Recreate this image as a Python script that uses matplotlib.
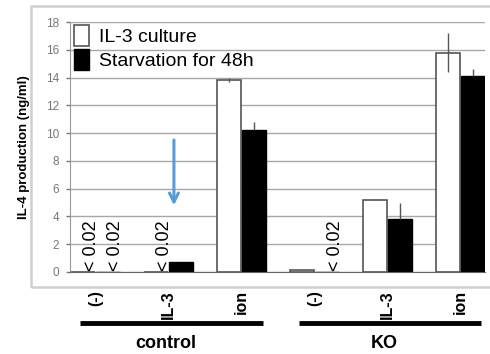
import matplotlib
matplotlib.use("Agg")
import matplotlib.pyplot as plt
import matplotlib.transforms as mtransforms
from matplotlib.patches import Rectangle, Patch
import numpy as np

plt.rcParams['font.family'] = ['Liberation Sans', 'DejaVu Sans']

conditions = ["(-)", "IL-3", "ion", "(-)", "IL-3", "ion"]
groups = ["control", "KO"]
series = ["IL-3 culture", "Starvation for 48h"]
il3_culture = [0, 0, 13.8, 0.12, 5.2, 15.8]
il3_culture_err = [0, 0, 0.15, 0, 0.05, 1.4]
starvation = [0, 0.7, 10.2, 0, 3.8, 14.1]
starvation_err = [0, 0.05, 0.6, 0, 1.2, 0.55]
# bars too small to show, labelled "< 0.02" instead: (position, series index)
below_limit = [(0, 0), (0, 1), (1, 0), (3, 1)]

x = np.arange(len(conditions))
width = 0.33
off = 0.17

fig = plt.figure(figsize=(4.9, 3.54), dpi=100)
ax = fig.add_axes([70 / 490, 1 - 272 / 354, 415 / 490, 250 / 354])

# outer chart frame
fig.add_artist(Rectangle((31 / 490, 1 - 287 / 354), 470 / 490, 281 / 354,
                         transform=fig.transFigure, fill=False,
                         edgecolor="#cfcfcf", lw=1.8))

ax.set_axisbelow(True)
ax.yaxis.grid(True, color="#a8a8a8", lw=1.0)

ax.bar(x - off, il3_culture, width, color="white", edgecolor="#555555", lw=1.2,
       yerr=il3_culture_err, error_kw=dict(ecolor="#555555", elinewidth=1.0, capsize=0))
ax.bar(x + off, starvation, width, color="black", edgecolor="black", lw=1.0,
       yerr=[np.zeros(len(x)), starvation_err],
       error_kw=dict(ecolor="#555555", elinewidth=1.0, capsize=0))

for pos, s in below_limit:
    sx = x[pos] + (-off if s == 0 else off) + 0.12
    if pos == 0 and s == 1:
        sx = x[pos] + 0.27
    ax.text(sx, 0.05, "< 0.02", rotation=90, ha="center", va="bottom", fontsize=13)

ax.annotate("", xy=(1.075, 4.6), xytext=(1.075, 9.7),
            arrowprops=dict(arrowstyle="->", color="#5b9bd5", lw=2.2,
                            mutation_scale=16))

ax.set_xlim(-0.35, 5.34)
ax.set_ylim(0, 18)
ax.set_yticks(range(0, 19, 2))
ax.tick_params(axis="y", colors="#777777", labelsize=8.5, length=3, width=1, pad=5)
ax.set_xticks(x)
ax.set_xticklabels(conditions, rotation=90, fontsize=11.5, fontweight="bold", color="black")
ax.tick_params(axis="x", length=0, pad=13)
ax.set_ylabel("IL-4 production (ng/ml)", fontsize=9.5, fontweight="bold", labelpad=11)

for side in ["top", "right"]:
    ax.spines[side].set_visible(False)
ax.spines["left"].set_color("#999999")
ax.spines["bottom"].set_color("#666666")
ax.spines["bottom"].set_linewidth(0.8)

trans = mtransforms.blended_transform_factory(ax.transData, ax.transAxes)
for i, g in enumerate(groups):
    first, last = x[3 * i], x[3 * i + 2]
    ax.plot([first - 0.21, last + 0.29], [-0.204, -0.204], color="black", lw=3.5,
            transform=trans, clip_on=False, solid_capstyle="butt")
    ax.text((first + last) / 2 - 0.04, -0.285, g, transform=trans, ha="center", va="center",
            fontsize=13, fontweight="bold")

handles = [Patch(facecolor="white", edgecolor="#555555", lw=1.2),
           Patch(facecolor="black", edgecolor="black")]
ax.legend(handles, series, loc="upper left", bbox_to_anchor=(-0.01, 1.02), frameon=False,
          fontsize=14, handlelength=0.8, handleheight=1.3, handletextpad=0.5,
          labelspacing=0.15, borderaxespad=0)

fig.savefig("out.png", dpi=100)
